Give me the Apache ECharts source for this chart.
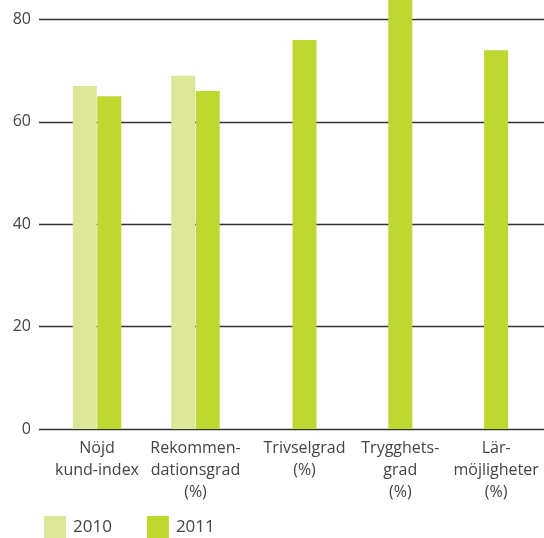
<!DOCTYPE html>
<html><head><meta charset="utf-8">
<script src="https://cdn.jsdelivr.net/npm/echarts@6/dist/echarts.min.js"></script>
<style>html,body{margin:0;padding:0;background:#fff}#c{width:544px;height:538px}</style>
</head><body><div id="c"></div>
<script>
var categories = ['Nöjd\nkund-index', 'Rekommen-\ndationsgrad\n(%)', 'Trivselgrad\n(%)', 'Trygghets-\ngrad\n(%)', 'Lär-\nmöjligheter\n(%)'];
var seriesNames = ['2010', '2011'];
var values2010 = [67, 69, null, null, null];
var values2011 = [65, 66, 76, 85, 74];
var yTicks = [0, 20, 40, 60, 80];

// categories with both years vs only 2011 (laid out on separate overlaid axes)
function isPair(i) { return values2010[i] != null; }
var pair2011 = values2011.map(function (v, i) { return isPair(i) ? v : null; });
var single2011 = values2011.map(function (v, i) { return isPair(i) ? null : v; });

var font = '"Open Sans", "DejaVu Sans", sans-serif';
var chart = echarts.init(document.getElementById('c'), null, {renderer: 'canvas'});
var gridBottom = 109, yMax = 83.8;
var labelCommon = {margin: 8, fontSize: 16, color: '#444', lineHeight: 22, fontFamily: font};
chart.setOption({
  animation: false,
  textStyle: {fontFamily: font},
  grid: [
    {left: 39, right: 0, top: 0, bottom: gridBottom},
    {left: 47.75, right: 3.75, top: 0, bottom: gridBottom},
    {left: 65, right: 0, top: 0, bottom: gridBottom}
  ],
  legend: {
    data: seriesNames, left: 39, top: 511, itemWidth: 22, itemHeight: 22, itemGap: 35, icon: 'rect',
    textStyle: {fontSize: 17, color: '#444', fontFamily: font, padding: [0, 0, 0, 2]}
  },
  xAxis: [
    {gridIndex: 0, type: 'category', data: categories, show: false},
    {gridIndex: 1, type: 'category', data: categories,
     axisLine: {show: false}, axisTick: {show: false},
     axisLabel: Object.assign({interval: function (i) { return isPair(i); }}, labelCommon)},
    {gridIndex: 2, type: 'category', data: categories,
     axisLine: {show: false}, axisTick: {show: false},
     axisLabel: Object.assign({interval: function (i) { return !isPair(i); }}, labelCommon)}
  ],
  yAxis: [
    {gridIndex: 0, type: 'value', min: 0, max: yMax, interval: 20,
     axisLine: {show: false}, axisTick: {show: false},
     axisLabel: {margin: 8, fontSize: 16, color: '#444', fontFamily: font,
       formatter: function (v) { return yTicks.indexOf(v) >= 0 ? String(v) : ''; }},
     splitLine: {show: false}},
    {gridIndex: 1, type: 'value', min: 0, max: yMax, interval: 20, show: false, splitLine: {show: false}},
    {gridIndex: 2, type: 'value', min: 0, max: yMax, interval: 20, show: false, splitLine: {show: false}}
  ],
  series: [
    {name: 'grid', type: 'line', xAxisIndex: 0, yAxisIndex: 0, data: [null, null, null, null, null],
     silent: true, showSymbol: false, z: 1,
     markLine: {silent: true, symbol: 'none', z: 1, label: {show: false},
       lineStyle: {color: '#333', width: 1.4, type: 'solid'},
       data: yTicks.map(function (v) { return {yAxis: v}; })}},
    {name: '2010', type: 'bar', xAxisIndex: 1, yAxisIndex: 1, data: values2010, barWidth: 24, barGap: '2%',
     z: 3, itemStyle: {color: '#dce799'}},
    {name: '2011', type: 'bar', xAxisIndex: 1, yAxisIndex: 1, data: pair2011, barWidth: 24, barGap: '2%',
     z: 3, itemStyle: {color: '#bed731'}},
    {name: '2011', type: 'bar', xAxisIndex: 2, yAxisIndex: 2, data: single2011, barWidth: 24,
     z: 3, itemStyle: {color: '#bed731'}}
  ]
});
</script></body></html>
